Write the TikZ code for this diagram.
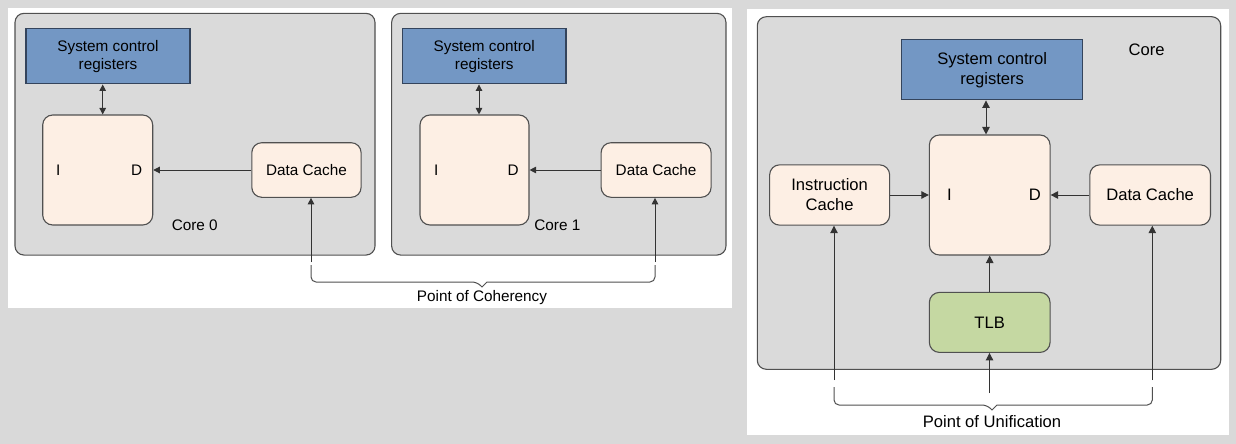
\documentclass[tikz,border=0pt]{standalone}
\usepackage{fontspec}
\setmainfont{Liberation Sans}
\usetikzlibrary{arrows.meta, positioning}
\definecolor{bggray}{RGB}{217,217,217}
\definecolor{coregray}{RGB}{218,218,218}
\definecolor{edgegray}{RGB}{80,80,80}
\definecolor{regblue}{RGB}{115,151,196}
\definecolor{regedge}{RGB}{52,68,92}
\definecolor{unitpeach}{RGB}{253,239,228}
\definecolor{tlbgreen}{RGB}{197,216,162}
\newcommand{\tiplen}{6.5pt}
\tikzset{
    corebox/.style={rectangle, draw=edgegray, line width=1.1pt, rounded corners=9pt, fill=coregray, inner sep=0pt},
    regbox/.style={rectangle, draw=regedge, line width=1.1pt, fill=regblue, align=center, inner sep=0pt},
    unit/.style={rectangle, draw=edgegray, line width=1.1pt, rounded corners=10pt, fill=unitpeach, align=center, inner sep=0pt},
    tlbbox/.style={unit, fill=tlbgreen},
    arrow/.style={line width=1pt, draw=black!80, -{Triangle[length=\tiplen, width=\tiplen]}},
    darrow/.style={arrow, {Triangle[length=\tiplen, width=\tiplen]}-{Triangle[length=\tiplen, width=\tiplen]}},
    brace/.style={line width=1pt, draw=edgegray},
    leftfont/.style={font=\fontsize{15.3}{18}\selectfont},
    rightfont/.style={font=\fontsize{16.6}{20}\selectfont}
}
\begin{document}
\begin{tikzpicture}[x=1pt, y=-1pt, leftfont]
    \useasboundingbox (0,0) rectangle (1236,444);
    \fill[bggray] (0,0) rectangle (1236,444);
    \fill[white] (8.3,8.3) rectangle (731.7,308);
    \fill[white] (747.3,8.7) rectangle (1229,435);

    % Core 0
    \node[corebox, minimum width=360pt, minimum height=241.7pt] (core0) at (195,134.2) {};
    \node[unit, minimum width=110pt, minimum height=110pt] (ID0) at (97.7,170) {};
    \node[regbox, minimum width=164pt, minimum height=55.7pt, above=30pt of ID0, xshift=10.3pt] (SCR0) {System control\\registers};
    \node[unit, minimum width=109.3pt, minimum height=54.6pt, right=98pt of ID0] (DC0) {Data Cache};
    \node (I0) at ([xshift=16pt]ID0.west) {I};
    \node (D0) at ([xshift=-16.7pt]ID0.east) {D};
    \node[right=15pt of ID0.south east] (lab0) {Core 0};

    \draw[darrow] ([xshift=5pt]ID0.north) -- ([xshift=5pt]ID0.north |- SCR0.south);
    \draw[arrow] (DC0.west) -- (ID0.east);

    % Core 1
    \node[corebox, minimum width=334.3pt, minimum height=241.7pt] (core1) at (558.8,134.2) {};
    \node[unit, minimum width=109pt, minimum height=110pt] (ID1) at (474.5,170) {};
    \node[regbox, minimum width=163.3pt, minimum height=55.7pt, above=30pt of ID1, xshift=9.8pt] (SCR1) {System control\\registers};
    \node[unit, minimum width=110pt, minimum height=54.6pt, right=71pt of ID1] (DC1) {Data Cache};
    \node (I1) at ([xshift=16.7pt]ID1.west) {I};
    \node (D1) at ([xshift=-16.3pt]ID1.east) {D};
    \node[right=1.3pt of ID1.south east] (lab1) {Core 1};

    \draw[darrow] ([xshift=4.5pt]ID1.north) -- ([xshift=4.5pt]ID1.north |- SCR1.south);
    \draw[arrow] (DC1.west) -- (ID1.east);

    % Point of Coherency
    \coordinate (pocL) at (311,262);
    \coordinate (pocR) at (655,262);
    \coordinate (pocTip) at (482,287);
    \draw[arrow] (pocL) -- (pocL |- DC0.south);
    \draw[arrow] (pocR) -- (pocR |- DC1.south);
    \draw[brace, rounded corners=5pt] ([yshift=-3pt]pocL) |- ([xshift=-5pt, yshift=5pt]pocTip) [sharp corners] -- (pocTip) -- ([xshift=5pt, yshift=5pt]pocTip) [rounded corners=5pt] -| ([yshift=-3pt]pocR);
    \node[anchor=base] (poc) at ([yshift=-14pt]pocTip) {Point of Coherency};

    % Core with unified view
    \begin{scope}[rightfont]
        \renewcommand{\tiplen}{7.5pt}
        \node[corebox, minimum width=463.4pt, minimum height=352.6pt] (core2) at (989,193) {};
        \node[unit, minimum width=120.7pt, minimum height=120pt] (ID2) at (989.7,195) {};
        \node[regbox, minimum width=181pt, minimum height=60.3pt, above=34pt of ID2, xshift=2.5pt] (SCR2) {System control\\registers};
        \node[unit, minimum width=120pt, minimum height=60.3pt, left=38.6pt of ID2] (IC) {Instruction\\Cache};
        \node[unit, minimum width=120.6pt, minimum height=60.3pt, right=38.7pt of ID2] (DC2) {Data Cache};
        \node[tlbbox, minimum width=120.7pt, minimum height=60pt, below=36.3pt of ID2] (TLB) {TLB};
        \node (I2) at ([xshift=20.7pt]ID2.west) {I};
        \node (D2) at ([xshift=-15.7pt]ID2.east) {D};
        \node (lab2) at (1146.7,49.3) {Core};

        \draw[darrow] ([xshift=-3.7pt]ID2.north) -- ([xshift=-3.7pt]ID2.north |- SCR2.south);
        \draw[arrow] (IC.east) -- (ID2.west);
        \draw[arrow] (DC2.west) -- (ID2.east);
        \draw[arrow] (TLB.north) -- (ID2.south);

        % Point of Unification
        \coordinate (pouL) at (834,380);
        \coordinate (pouR) at (1152.3,380);
        \coordinate (pouM) at (989.5,393);
        \coordinate (pouTip) at (992,410);
        \draw[arrow] (pouL) -- (pouL |- IC.south);
        \draw[arrow] (pouR) -- (pouR |- DC2.south);
        \draw[arrow] (pouM) -- (pouM |- TLB.south);
        \draw[brace, rounded corners=5pt] ([yshift=-7pt]pouL) |- ([xshift=-5pt, yshift=5pt]pouTip) [sharp corners] -- (pouTip) -- ([xshift=5pt, yshift=5pt]pouTip) [rounded corners=5pt] -| ([yshift=-7pt]pouR);
        \node[anchor=base] (pou) at ([yshift=-17.3pt]pouTip) {Point of Unification};
    \end{scope}
\end{tikzpicture}
\end{document}
